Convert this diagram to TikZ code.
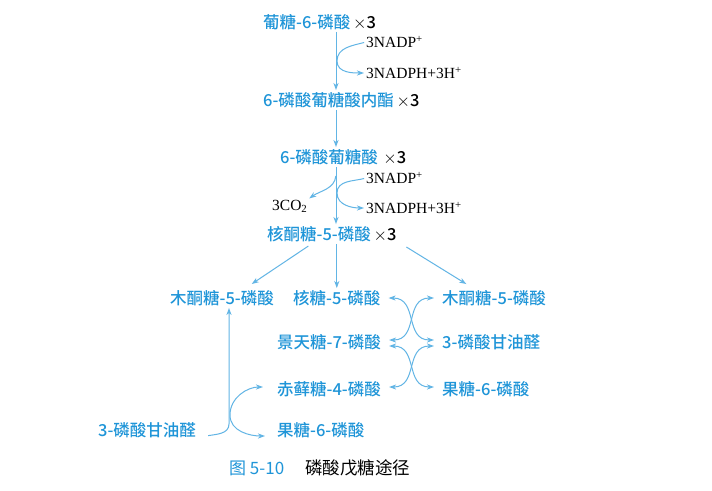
\documentclass[tikz,border=0pt]{standalone}
\usepackage{fontspec}
\setmainfont{Liberation Serif}
\newfontfamily\cjk{Noto Sans CJK SC Medium}
\newfontfamily\cjkcap{Noto Sans CJK SC}
\usetikzlibrary{arrows.meta}
\definecolor{pblue}{HTML}{1F95D8}
\definecolor{lblue}{HTML}{62B5E5}
\newcommand\tri{\textcolor{black}{\,$\times$3}}

\begin{document}
\begin{tikzpicture}[x=1pt, y=-1pt,
  met/.style={text=pblue, font=\cjk\fontsize{16.5}{18}\selectfont, inner sep=0pt, anchor=west},
  cof/.style={font=\fontsize{15.5}{17}\selectfont, inner sep=0pt, anchor=west},
  flow/.style={draw=lblue, line width=1pt, shorten >=2pt, shorten <=2pt,
    -{Stealth[length=7pt,width=5pt,inset=2pt]}},
  both/.style={flow, {Stealth[length=7pt,width=5pt,inset=2pt]}-{Stealth[length=7pt,width=5pt,inset=2pt]}}]
  \useasboundingbox[fill=white] (0,0) rectangle (712,490);
  % oxidative part
  \node[met] (g6p) at (263,22) {葡糖-6-磷酸\tri};
  \node[met] (lac) at (263,100) {6-磷酸葡糖酸内酯\tri};
  \node[met] (pg) at (280,157) {6-磷酸葡糖酸\,\tri};
  \node[met] (ru5p) at (267,234) {核酮糖-5-磷酸\tri};
  \node[cof] (nadp1) at (366,42) {3NADP\textsuperscript{+}};
  \node[cof] (nadph1) at (366,73) {3NADPH+3H\textsuperscript{+}};
  \node[cof] (nadp2) at (366,178) {3NADP\textsuperscript{+}};
  \node[cof] (nadph2) at (366,208) {3NADPH+3H\textsuperscript{+}};
  \node[cof] (co2) at (272,206) {3CO\textsubscript{2}};
  \coordinate (ax) at (336,0);
  \coordinate (t1) at (337,61);
  \coordinate (t2) at (337,193);
  \coordinate (c2) at (336,174);
  \draw[flow] (g6p.south -| ax) -- (lac.north -| ax);
  \draw[flow] (lac.south -| ax) -- (pg.north -| ax);
  \draw[flow] (pg.south -| ax) -- (ru5p.north -| ax);
  \draw[flow] (nadp1.west) to[out=195,in=90] (t1) to[out=-90,in=180] (nadph1.west);
  \draw[flow] (nadp2.west) to[out=195,in=90] (t2) to[out=-90,in=180] (nadph2.west);
  \draw[flow] (c2) to[out=-95,in=35] (co2.north east);
  % non-oxidative part
  \node[met] (xu5pa) at (170,298) {木酮糖-5-磷酸};
  \node[met] (r5p) at (293,298) {核糖-5-磷酸};
  \node[met] (xu5pb) at (442,298) {木酮糖-5-磷酸};
  \node[met] (s7p) at (277,342) {景天糖-7-磷酸};
  \node[met] (gap1) at (442,342) {3-磷酸甘油醛};
  \node[met] (e4p) at (277,389) {赤藓糖-4-磷酸};
  \node[met] (f6p1) at (442,389) {果糖-6-磷酸};
  \node[met] (gap2) at (98,430) {3-磷酸甘油醛};
  \node[met] (f6p2) at (277,430) {果糖-6-磷酸};
  \draw[flow] ([xshift=43pt,yshift=-3pt]ru5p.south west) -- ([xshift=-24pt,yshift=5pt]xu5pa.north east);
  \draw[flow] (ru5p.south -| r5p.north) -- (r5p.north);
  \draw[flow] ([xshift=8pt,yshift=-4pt]ru5p.south east) -- ([xshift=26pt,yshift=5pt]xu5pb.north west);
  \draw[both] ([xshift=6pt]r5p.east) to[out=0,in=180,looseness=1.25] ([xshift=-6pt,yshift=2pt]gap1.west);
  \draw[both] ([xshift=-6pt]xu5pb.west) to[out=180,in=0,looseness=1.25] ([xshift=6pt,yshift=2pt]s7p.east);
  \draw[both] ([xshift=6pt,yshift=-4pt]s7p.east) to[out=0,in=180,looseness=1.25] ([xshift=-6pt,yshift=2pt]f6p1.west);
  \draw[both] ([xshift=-6pt,yshift=-4pt]gap1.west) to[out=180,in=0,looseness=1.25] ([xshift=6pt,yshift=2pt]e4p.east);
  \coordinate (b1) at (229,424);
  \coordinate (b2) at (230,415);
  \draw[flow] ([xshift=10pt,yshift=-6pt]gap2.east) to[out=10,in=-90] (b1) -- (xu5pa.south -| b1);
  \draw[both] ([xshift=-12pt,yshift=2pt]e4p.west) to[out=180,in=90] (b2) to[out=-90,in=180] ([xshift=-10pt,yshift=-6pt]f6p2.west);
  % caption
  \node[text=pblue, font=\cjkcap\fontsize{17}{19}\selectfont, inner sep=0pt, anchor=west] (fig) at (229,468) {图 5-10};
  \node[font=\cjkcap\fontsize{17.5}{19}\selectfont, inner sep=0pt, anchor=west] (title) at (305,468) {磷酸戊糖途径};
\end{tikzpicture}
\end{document}
